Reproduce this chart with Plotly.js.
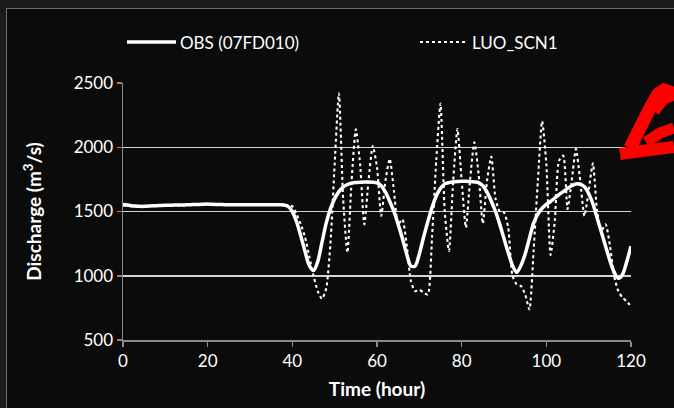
<!DOCTYPE html>
<html>
<head>
<meta charset="utf-8">
<script src="https://cdn.plot.ly/plotly-3.0.1.min.js"></script>
<style>
  html, body { margin: 0; padding: 0; background: #1b1b1b; width: 674px; height: 408px; overflow: hidden; }
  #chart { position: absolute; left: 6px; top: 8px; width: 668px; height: 400px;
           border-left: 1px solid #6e6e6e; border-top: 1px solid #6e6e6e; background: #0b0b0b; }
</style>
</head>
<body>
<div id="chart"></div>
<script>
// Time (hour)
const hours = [];
for (let h = 0; h <= 120; h++) hours.push(h);

// Observed discharge (07FD010), m3/s
const obs = [
  1555,1550,1545,1542,1540,1540,1542,1545,1545,1547,
  1548,1548,1550,1550,1550,1552,1553,1555,1555,1557,
  1558,1556,1555,1555,1553,1552,1552,1553,1553,1552,
  1552,1553,1553,1552,1552,1553,1553,1552,1550,1540,
  1500,1420,1310,1190,1080,1040,1110,1260,1410,1520,
  1600,1655,1690,1710,1720,1725,1728,1730,1730,1728,
  1722,1700,1650,1580,1500,1400,1290,1170,1075,1075,
  1170,1300,1420,1530,1620,1680,1715,1725,1730,1733,
  1735,1735,1733,1730,1725,1700,1650,1580,1500,1400,
  1290,1180,1080,1025,1080,1170,1290,1410,1480,1525,
  1555,1578,1605,1632,1655,1680,1700,1714,1712,1692,
  1640,1560,1450,1340,1230,1120,1030,980,1010,1110,
  1230
];

// Simulated discharge LUO_SCN1, m3/s
const luo = [
  1548,1545,1540,1538,1537,1538,1540,1542,1543,1545,
  1546,1547,1548,1548,1549,1550,1551,1552,1553,1554,
  1555,1556,1557,1555,1553,1552,1553,1554,1553,1552,
  1553,1554,1553,1552,1553,1553,1552,1551,1550,1548,
  1540,1480,1400,1300,1150,1000,880,820,900,1250,
  1870,2420,1600,1180,1740,2140,1870,1400,1740,2010,
  1844,1466,1740,1910,1662,1401,1440,1245,959,880,
  890,870,854,1300,1900,2340,1500,1193,1740,2143,
  1740,1375,1750,2039,1792,1406,1740,1927,1600,1500,
  1492,1375,1000,933,920,854,737,1200,1740,2203,
  1870,1162,1427,1896,1935,1519,1740,1987,1740,1466,
  1662,1875,1500,1350,1400,1240,1000,880,830,800,
  763
];

const seriesNames = ['OBS (07FD010)', 'LUO_SCN1'];
const xTicks = [0, 20, 40, 60, 80, 100, 120];
const yTicks = [500, 1000, 1500, 2000, 2500];

const FONT = 'Lato, "Open Sans", sans-serif';

const traces = [
  {
    x: hours, y: obs, name: seriesNames[0], type: 'scatter', mode: 'lines',
    line: { color: '#ffffff', width: 3.5, shape: 'spline', smoothing: 0.8 }
  },
  {
    x: hours, y: luo, name: seriesNames[1], type: 'scatter', mode: 'lines',
    line: { color: '#ffffff', width: 2.1, dash: 'dot', shape: 'spline', smoothing: 0.6 }
  }
];

// page pixel -> paper coords (div content starts at page x=7, y=9)
const W = 667, H = 399;
const L = 116, T = 74, PW = 508, PH = 257;
function px(x) { return (x - 7 - L) / PW; }
function py(y) { return 1 - (y - 9 - T) / PH; }
function path(pts) {
  return pts.map((p, i) => (i ? 'L' : 'M') + px(p[0]).toFixed(4) + ',' + py(p[1]).toFixed(4)).join(' ');
}

const layout = {
  width: W, height: H,
  paper_bgcolor: '#0b0b0b', plot_bgcolor: '#0b0b0b',
  margin: { l: L, r: W - L - PW, t: T, b: H - T - PH, pad: 0 },
  font: { family: FONT, color: '#ffffff', size: 17 },
  showlegend: false,
  xaxis: {
    range: [0, 120], tickvals: xTicks, ticktext: xTicks.map(String),
    showgrid: false, zeroline: false, showline: true, linecolor: '#8a8a8a', linewidth: 1.5,
    ticks: 'outside', ticklen: 5, tickcolor: '#8a8a8a', tickwidth: 1.5,
    tickfont: { family: FONT, color: '#ffffff', size: 17 },
    title: { text: '<b>Time (hour)</b>', font: { family: FONT, color: '#ffffff', size: 19 }, standoff: 13 }
  },
  yaxis: {
    range: [500, 2500], tickvals: yTicks, ticktext: yTicks.map(String),
    showgrid: true, gridcolor: '#d4d4d4', gridwidth: 1.5,
    zeroline: false, showline: true, linecolor: '#8a8a8a', linewidth: 1.5,
    ticks: 'outside', ticklen: 5, tickcolor: '#8a8a8a', tickwidth: 1.5,
    tickfont: { family: FONT, color: '#ffffff', size: 17 },
    title: { text: '<b>Discharge (m<sup>3</sup>/s)</b>', font: { family: FONT, color: '#ffffff', size: 19 }, standoff: 27 }
  },
  annotations: [
    { xref: 'paper', yref: 'paper', x: px(178), y: py(42), xanchor: 'left', yanchor: 'middle',
      text: seriesNames[0], showarrow: false, font: { family: FONT, color: '#ffffff', size: 17 } },
    { xref: 'paper', yref: 'paper', x: px(470), y: py(42), xanchor: 'left', yanchor: 'middle',
      text: seriesNames[1], showarrow: false, font: { family: FONT, color: '#ffffff', size: 17 } }
  ],
  shapes: [
    // legend keys
    { type: 'line', xref: 'paper', yref: 'paper', x0: px(127), x1: px(176), y0: py(42), y1: py(42),
      line: { color: '#ffffff', width: 3.5 } },
    { type: 'line', xref: 'paper', yref: 'paper', x0: px(420), x1: px(468), y0: py(42), y1: py(42),
      line: { color: '#ffffff', width: 2, dash: 'dot' } },
    // hand-drawn red mark
    { type: 'path', xref: 'paper', yref: 'paper',
      path: path([[620,154],[634,152],[650,150],[674,147]]),
      line: { color: '#ff0000', width: 12 } },
    { type: 'path', xref: 'paper', yref: 'paper',
      path: path([[630,148],[640,128],[650,108],[658,94],[664,90],[670,92],[674,100]]),
      line: { color: '#ff0000', width: 13 } },
    { type: 'path', xref: 'paper', yref: 'paper',
      path: path([[646,142],[660,133],[674,128]]),
      line: { color: '#ff0000', width: 11 } },
    { type: 'path', xref: 'paper', yref: 'paper',
      path: path([[655,112],[664,100],[674,96]]),
      line: { color: '#ff0000', width: 9 } }
  ]
};

Plotly.newPlot('chart', traces, layout, { displayModeBar: false, staticPlot: true });
</script>
</body>
</html>
